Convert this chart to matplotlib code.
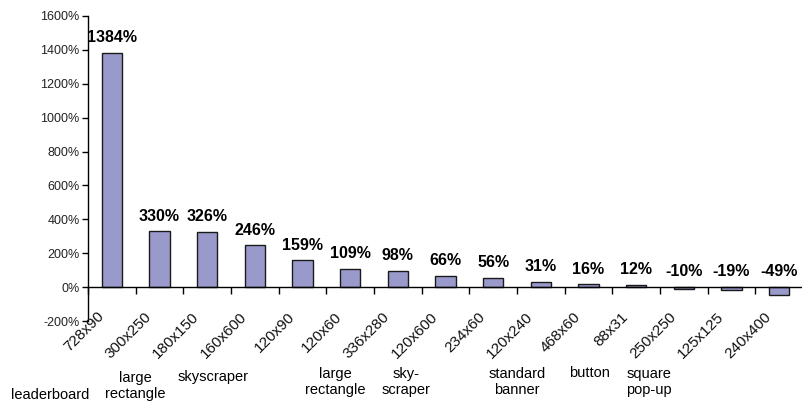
import matplotlib
matplotlib.use("Agg")
import matplotlib.pyplot as plt
import numpy as np
from matplotlib.ticker import FuncFormatter, MultipleLocator

sizes = ["728x90", "300x250", "180x150", "160x600", "120x90", "120x60", "336x280",
         "120x600", "234x60", "120x240", "468x60", "88x31", "250x250", "125x125", "240x400"]
values = [1384, 330, 326, 246, 159, 109, 98, 66, 56, 31, 16, 12, -10, -19, -49]
value_labels = ["1384%", "330%", "326%", "246%", "159%", "109%", "98%", "66%", "56%",
                "31%", "16%", "12%", "-10%", "-19%", "-49%"]
descriptions = ["leaderboard", "large\nrectangle", "skyscraper", "large\nrectangle",
                "sky-\nscraper", "standard\nbanner", "button", "square\npop-up"]

W, H = 803, 404
fig = plt.figure(figsize=(W / 100, H / 100), dpi=100)
ax_left, ax_right = 88, 803
ax_top, ax_bot = 16, 321
ax = fig.add_axes([ax_left / W, 1 - ax_bot / H, (ax_right - ax_left) / W, (ax_bot - ax_top) / H])

font = "Liberation Sans"
x = np.arange(len(values))
ax.bar(x, values, width=0.42, color="#9999cc", edgecolor="#1a1a1a", linewidth=1.0, zorder=2)

ax.set_xlim(-0.5, len(values) - 0.5)
ax.set_ylim(-200, 1600)
ax.yaxis.set_major_locator(MultipleLocator(200))
ax.yaxis.set_major_formatter(FuncFormatter(lambda v, p: f"{v:.0f}%"))
for s in ["top", "right"]:
    ax.spines[s].set_visible(False)
ax.spines["bottom"].set_position(("data", 0))
ax.spines["left"].set_linewidth(1.0)
ax.spines["bottom"].set_linewidth(1.0)
ax.tick_params(axis="y", direction="out", length=4, width=1, pad=2, labelsize=9)
for t in ax.get_yticklabels():
    t.set_fontfamily(font)
    t.set_color("#222222")

ax.set_xticks(np.arange(len(values) + 1) - 0.5, minor=True)
ax.set_xticks([])
ax.tick_params(axis="x", which="minor", direction="out", length=5, width=1)

# rotated category labels
for i, lbl in enumerate(sizes):
    ax.annotate(lbl, (i, 0), xytext=(-11, -16), textcoords="offset points",
                rotation=45, rotation_mode="anchor", ha="right", va="top",
                fontsize=11, family=font, color="#111111")

# value labels
for i, (v, lbl) in enumerate(zip(values, value_labels)):
    ax.annotate(lbl, (i, max(v, 0)), xytext=(0, 5.5), textcoords="offset points",
                ha="center", va="bottom", fontsize=11.5, fontweight="bold",
                family=font, color="black")

# descriptions below
desc_pos = [(50, 395), (135, 386), (213, 377), (335, 382), (406, 382), (517, 382),
            (589, 373), (649, 382)]
for d, (px, py) in zip(descriptions, desc_pos):
    fig.text(px / W, 1 - py / H, d, ha="center", va="center", fontsize=10.5,
             family=font, color="black", linespacing=1.25)

fig.savefig("out.png", dpi=100)
